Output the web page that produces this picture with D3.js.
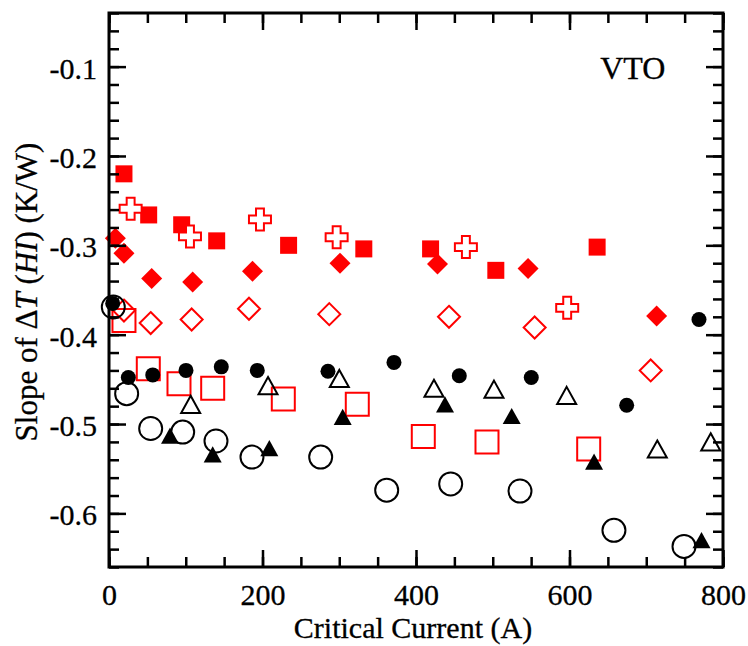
<!DOCTYPE html>
<html><head><meta charset="utf-8">
<script src="https://cdn.jsdelivr.net/npm/d3@7/dist/d3.min.js"></script>
<style>body{margin:0;background:#fff}svg{display:block}</style>
</head><body>
<svg id="chart" width="748" height="646"></svg>
<script>
// ---- data ----
const xMajorTicks = [0, 200, 400, 600, 800];
const yMajorTicks = [-0.6, -0.5, -0.4, -0.3, -0.2, -0.1];
const xMinorTicks = d3.range(0, 801, 50);
const yMinorTicks = d3.range(-0.66, -0.039, 0.02);
const xTitle = "Critical Current (A)";
const panelLabel = "VTO";

const redSquareX = [19.5, 51.7, 94.7, 140.3, 234, 332, 419, 504, 636];
const redSquareY = [-0.220, -0.266, -0.277, -0.295, -0.300, -0.304, -0.304, -0.328, -0.302];

const redCrossX = [28.2, 105.5, 196.7, 296.6, 465, 597];
const redCrossY = [-0.259, -0.290, -0.271, -0.291, -0.302, -0.370];

const redDiamondX = [8.3, 19.5, 55.6, 109, 187, 301, 428, 546, 713.5];
const redDiamondY = [-0.292, -0.309, -0.337, -0.341, -0.329, -0.320, -0.321, -0.326, -0.379];

const redOpenDiamondX = [19.5, 54.3, 107.7, 182.4, 287, 443, 554.6, 705.8];
const redOpenDiamondY = [-0.373, -0.387, -0.383, -0.371, -0.377, -0.380, -0.392, -0.440];

const redOpenSquareX = [19.5, 51.2, 91.2, 135.1, 227.1, 323.5, 409.5, 492.5, 625];
const redOpenSquareY = [-0.384, -0.438, -0.455, -0.460, -0.472, -0.478, -0.514, -0.520, -0.528];

const blackOpenCircleX = [5.6, 23, 54.3, 96, 139.4, 186.3, 275.8, 361.8, 445.2, 535.5, 657.9, 749.2];
const blackOpenCircleY = [-0.369, -0.466, -0.505, -0.509, -0.519, -0.537, -0.537, -0.574, -0.567, -0.575, -0.619, -0.637];

const blackCircleX = [4.8, 25.2, 57, 100.3, 146.3, 193.2, 285.3, 371.3, 456.4, 550.2, 674.5, 768.7];
const blackCircleY = [-0.365, -0.448, -0.445, -0.440, -0.436, -0.440, -0.441, -0.431, -0.446, -0.448, -0.479, -0.383];

const blackOpenTriX = [106.4, 207.2, 300.1, 423.4, 501.6, 596.3, 714.4, 784];
const blackOpenTriY = [-0.478, -0.457, -0.449, -0.460, -0.461, -0.468, -0.528, -0.520];

const blackTriX = [79.5, 135.1, 208.9, 304.5, 437.8, 524.7, 632, 772];
const blackTriY = [-0.513, -0.534, -0.527, -0.492, -0.478, -0.491, -0.542, -0.630];

// ---- layout ----
const margin = {left: 109, top: 13, right: 25, bottom: 79};
const W = 748, H = 646;
const iw = W - margin.left - margin.right;
const ih = H - margin.top - margin.bottom;
const FONT = "'Liberation Serif','Times New Roman',serif";
const RED = "#ff0000";

const x = d3.scaleLinear().domain([0, 800]).range([0, iw]);
const y = d3.scaleLinear().domain([-0.66, -0.04]).range([ih, 0]);

const svg = d3.select("#chart");
svg.append("rect").attr("width", W).attr("height", H).attr("fill", "#fff");
const g = svg.append("g").attr("transform", `translate(${margin.left},${margin.top})`);

// ---- marker shapes ----
function shapePath(type, s) {
  const h = s / 2;
  switch (type) {
    case "square": return `M${-h},${-h}H${h}V${h}H${-h}Z`;
    case "diamond": return `M0,${-h}L${h},0L0,${h}L${-h},0Z`;
    case "cross": {
      const a = s * 0.18;
      return `M${-a},${-h}H${a}V${-a}H${h}V${a}H${a}V${h}H${-a}V${a}H${-h}V${-a}H${-a}Z`;
    }
    case "triangle": {
      const w = s / 2, th = s * 0.9 / 2;
      return `M0,${-th}L${w},${th}L${-w},${th}Z`;
    }
    case "circle": return d3.arc()({innerRadius: 0, outerRadius: h, startAngle: 0, endAngle: 2 * Math.PI});
  }
}

const series = [
  {xs: redSquareX, ys: redSquareY, type: "square", size: 17, fill: RED, stroke: "none"},
  {xs: redCrossX, ys: redCrossY, type: "cross", size: 22, fill: "#fff", stroke: RED},
  {xs: redDiamondX, ys: redDiamondY, type: "diamond", size: 21, fill: RED, stroke: "none"},
  {xs: redOpenDiamondX, ys: redOpenDiamondY, type: "diamond", size: 22, fill: "none", stroke: RED},
  {xs: redOpenSquareX, ys: redOpenSquareY, type: "square", size: 23, fill: "none", stroke: RED},
  {xs: blackOpenCircleX, ys: blackOpenCircleY, type: "circle", size: 23, fill: "none", stroke: "#000"},
  {xs: blackCircleX, ys: blackCircleY, type: "circle", size: 15, fill: "#000", stroke: "none"},
  {xs: blackOpenTriX, ys: blackOpenTriY, type: "triangle", size: 19, fill: "none", stroke: "#000"},
  {xs: blackTriX, ys: blackTriY, type: "triangle", size: 18, fill: "#000", stroke: "none"}
];

const plot = g.append("g");
series.forEach(s => {
  const pts = s.xs.map((v, i) => [v, s.ys[i]]);
  plot.append("g").selectAll("path").data(pts).join("path")
    .attr("transform", d => `translate(${x(d[0])},${y(d[1])})`)
    .attr("d", shapePath(s.type, s.size))
    .attr("fill", s.fill)
    .attr("stroke", s.stroke)
    .attr("stroke-width", s.stroke === "none" ? 0 : 2);
});

// ---- axes (ticks inward on all sides) ----
const fmt = d => d3.format(".1f")(d).replace("\u2212", "-");
function styleAxis(sel) {
  sel.select(".domain").remove();
  sel.selectAll(".tick line").attr("stroke", "#000").attr("stroke-width", 2.5);
  sel.selectAll("text").attr("font-family", FONT).attr("font-size", 30).attr("fill", "#000")
    .attr("stroke", "#000").attr("stroke-width", 0.3);
}
g.append("g").call(d3.axisLeft(y).tickValues(yMinorTicks).tickSize(-10).tickFormat("")).call(styleAxis);
g.append("g").call(d3.axisLeft(y).tickValues(yMajorTicks).tickSize(-17).tickPadding(12).tickFormat(fmt))
  .call(styleAxis).call(a => a.selectAll("text").attr("dy", "0.38em"));
g.append("g").attr("transform", `translate(${iw},0)`).call(d3.axisRight(y).tickValues(yMinorTicks).tickSize(-10).tickFormat("")).call(styleAxis);
g.append("g").attr("transform", `translate(${iw},0)`).call(d3.axisRight(y).tickValues(yMajorTicks).tickSize(-17).tickFormat("")).call(styleAxis);

g.append("g").attr("transform", `translate(0,${ih})`).call(d3.axisBottom(x).tickValues(xMinorTicks).tickSize(-10).tickFormat("")).call(styleAxis);
g.append("g").attr("transform", `translate(0,${ih})`).call(d3.axisBottom(x).tickValues(xMajorTicks).tickSize(-17).tickPadding(17).tickFormat(d3.format("d"))).call(styleAxis);
g.append("g").call(d3.axisTop(x).tickValues(xMinorTicks).tickSize(-10).tickFormat("")).call(styleAxis);
g.append("g").call(d3.axisTop(x).tickValues(xMajorTicks).tickSize(-17).tickFormat("")).call(styleAxis);

g.append("rect").attr("width", iw).attr("height", ih)
  .attr("fill", "none").attr("stroke", "#000").attr("stroke-width", 3);

// ---- titles ----
svg.append("text").attr("x", margin.left + iw / 2 - 3).attr("y", 638)
  .attr("text-anchor", "middle").attr("font-family", FONT).attr("font-size", 30)
  .attr("stroke", "#000").attr("stroke-width", 0.3)
  .text(xTitle);

const yt = svg.append("text")
  .attr("transform", `translate(37,${margin.top + ih / 2 + 2}) rotate(-90)`)
  .attr("text-anchor", "middle").attr("font-family", FONT).attr("font-size", 31)
  .attr("stroke", "#000").attr("stroke-width", 0.3);
yt.append("tspan").text("Slope of \u0394");
yt.append("tspan").attr("font-style", "italic").text("T");
yt.append("tspan").text(" (");
yt.append("tspan").attr("font-style", "italic").text("HI");
yt.append("tspan").text(") (K/W)");

g.append("text").attr("x", x(640)).attr("y", y(-0.1) + 12)
  .attr("font-family", FONT).attr("font-size", 32)
  .attr("stroke", "#000").attr("stroke-width", 0.3).text(panelLabel);
</script>
</body></html>
